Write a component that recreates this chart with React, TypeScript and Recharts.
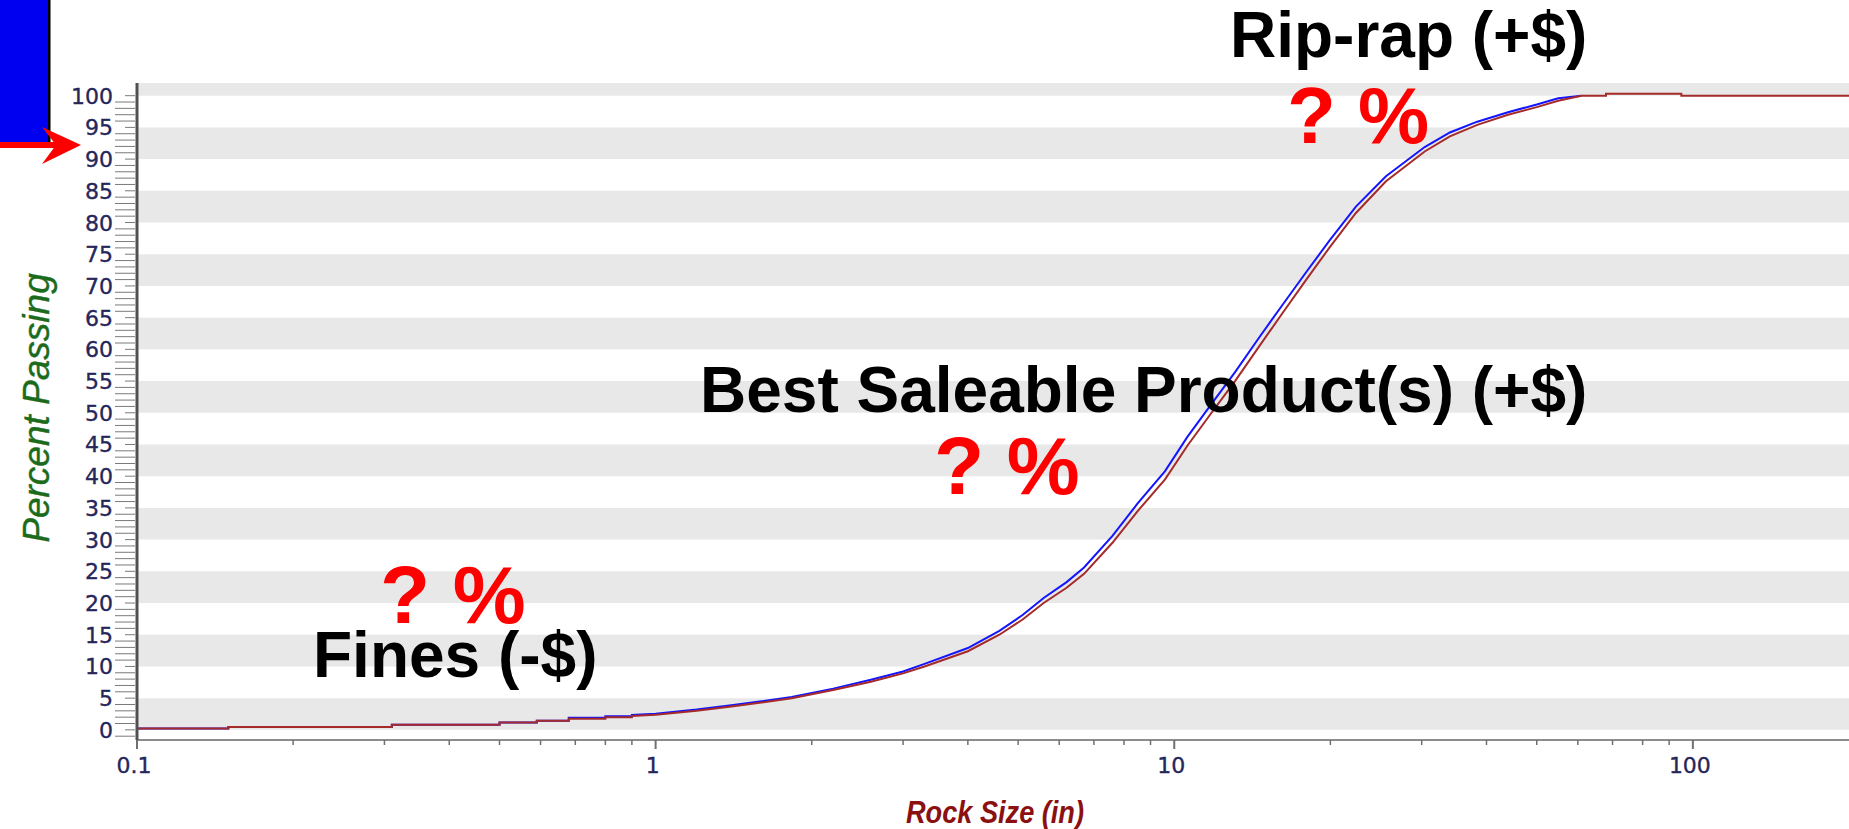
import React from 'react';
import { LineChart, Line, XAxis, YAxis, ReferenceArea } from 'recharts';

const W = 1849;
const H = 829;
const PLOT_LEFT = 137;
const PLOT_TOP = 83;
const PLOT_BOTTOM = 740;

const TICK_FONT = '"DejaVu Sans", Verdana, sans-serif';
const TICK_COLOR = '#26265a';
const RED = '#a52a2a';
const BLUE = '#1414ff';

// sieve curve (size in inches, percent passing)
const redSizes = [0.1, 0.15, 0.15, 0.31, 0.31, 0.5, 0.5, 0.59, 0.59, 0.68, 0.68, 0.8, 0.8, 0.9, 0.9, 1.0, 1.2, 1.4, 1.6, 1.83, 2.2, 2.6, 3.0, 3.3, 4.0, 4.6, 5.1, 5.6, 6.2, 6.7, 7.6, 8.5, 9.6, 10.6, 11.8, 13.1, 14.5, 16.1, 17.9, 19.9, 22.4, 25.6, 30.4, 34, 38.4, 44, 50, 55, 61, 68, 68, 95, 95, 200];
const redPassing = [0.2, 0.2, 0.45, 0.45, 0.8, 0.8, 1.15, 1.15, 1.45, 1.45, 1.75, 1.75, 2.0, 2.0, 2.2, 2.4, 3.0, 3.7, 4.3, 5.0, 6.3, 7.6, 8.9, 10, 12.4, 15, 17.4, 20, 22.4, 24.6, 29.5, 34.5, 39.5, 44.8, 50, 55, 60.2, 65.5, 70.8, 76, 81.5, 86.5, 91.2, 93.6, 95.4, 97, 98.2, 99.2, 100, 100, 100.3, 100.3, 100, 100];

const blueSizes = [0.1, 0.15, 0.15, 0.31, 0.31, 0.5, 0.5, 0.59, 0.59, 0.68, 0.68, 0.8, 0.8, 0.9, 0.9, 1.0, 1.2, 1.4, 1.6, 1.83, 2.2, 2.6, 3.0, 3.3, 4.0, 4.6, 5.1, 5.6, 6.2, 6.7, 7.6, 8.5, 9.6, 10.6, 11.8, 13.1, 14.5, 16.1, 17.9, 19.9, 22.4, 25.6, 30.4, 34, 38.4, 44, 50, 55, 61];
const bluePassing = [0.2, 0.2, 0.45, 0.45, 0.8, 0.8, 1.15, 1.15, 1.45, 1.45, 1.9, 1.9, 2.15, 2.15, 2.35, 2.55, 3.2, 3.9, 4.5, 5.2, 6.5, 7.9, 9.2, 10.4, 12.9, 15.6, 18.1, 20.8, 23.3, 25.6, 30.6, 35.7, 40.8, 46.2, 51.4, 56.4, 61.6, 66.8, 72, 77.1, 82.5, 87.3, 91.9, 94.2, 95.9, 97.4, 98.6, 99.6, 100];

const xTicks = [0.1, 0.2, 0.3, 0.4, 0.5, 0.6, 0.7, 0.8, 0.9, 1, 2, 3, 4, 5, 6, 7, 8, 9, 10, 20, 30, 40, 50, 60, 70, 80, 90, 100];
const xTickLabels = ['0.1', '1', '10', '100'];
const yTicks = Array.from({ length: 102 }, (_, i) => i - 1);
const bandStarts = [0, 10, 20, 30, 40, 50, 60, 70, 80, 90, 100];

const redData = redSizes.map((s, i) => ({ size: s, passing: redPassing[i] }));
const blueData = blueSizes.map((s, i) => ({ size: s, passing: bluePassing[i] }));

function XTick(props: any) {
  const { x, payload } = props;
  const label = xTickLabels.find((l) => Number(l) === payload.value);
  return (
    <g>
      <line x1={x} x2={x} y1={PLOT_BOTTOM} y2={PLOT_BOTTOM + (label ? 9 : 5)} stroke="#707070" strokeWidth={label ? 2 : 1.5} />
      {label && (
        <text x={x - 3} y={PLOT_BOTTOM + 33} textAnchor="middle" fontFamily={TICK_FONT} fontSize={22} fill={TICK_COLOR} stroke={TICK_COLOR} strokeWidth={0.35}>
          {label}
        </text>
      )}
    </g>
  );
}

function YTick(props: any) {
  const { y, payload } = props;
  const v = payload.value;
  const labelled = v >= 0 && v % 5 === 0;
  return (
    <g>
      <line x1={labelled ? 125 : 115} x2={PLOT_LEFT - 2} y1={y} y2={y} stroke="#7a7a7a" strokeWidth={1} />
      {labelled && (
        <text x={113} y={y + 8} textAnchor="end" fontFamily={TICK_FONT} fontSize={22} fill={TICK_COLOR} stroke={TICK_COLOR} strokeWidth={0.35}>
          {v}
        </text>
      )}
    </g>
  );
}

const annoFont = '"Liberation Sans", Arial, sans-serif';

function Overlay() {
  return (
    <svg width={W} height={H} style={{ position: 'absolute', left: 0, top: 0, pointerEvents: 'none' }}>
      <rect x={0} y={0} width={48} height={143} fill="#0000f0" />
      <rect x={48} y={0} width={2.5} height={143} fill="#000" />
      <rect x={0} y={142} width={58} height={6} fill="#ff0000" />
      <polygon points="42,127 81,145 42,164 56,145" fill="#ff0000" />

      <g fontFamily={annoFont} fontWeight="bold">
        <text x={1230} y={57} fontSize={64} fill="#000">Rip-rap (+$)</text>
        <text x={1287} y={143} fontSize={80} fill="#ff0000">? %</text>
        <text x={700} y={412} fontSize={64} fill="#000">Best Saleable Product(s) (+$)</text>
        <text x={934} y={494} fontSize={82} fill="#ff0000">? %</text>
        <text x={380} y={623} fontSize={82} fill="#ff0000">? %</text>
        <text x={313} y={677} fontSize={64} fill="#000">Fines (-$)</text>
      </g>
    </svg>
  );
}

export default function App() {
  return (
    <div style={{ position: 'absolute', left: 0, top: 0, width: W, height: H, background: '#fff' }}>
      <LineChart width={W} height={H} margin={{ top: PLOT_TOP, right: 0, bottom: 0, left: 0 }}>
        {bandStarts.map((b) => (
          <ReferenceArea key={b} y1={b} y2={b + 5} fill="#e8e8e8" fillOpacity={1} stroke="none" ifOverflow="hidden" />
        ))}
        <XAxis
          dataKey="size"
          type="number"
          scale="log"
          domain={[0.1, 200]}
          allowDataOverflow
          ticks={xTicks}
          interval={0}
          tick={<XTick />}
          tickLine={false}
          axisLine={{ stroke: '#8c8c8c', strokeWidth: 2 }}
          height={H - PLOT_BOTTOM}
          label={{
            value: 'Rock Size (in)',
            position: 'insideBottom',
            offset: 0,
            content: () => (
              <text x={995} y={823} textAnchor="middle" fontFamily={annoFont} fontSize={31} fontWeight="bold" fontStyle="italic" fill="#8b1010" textLength={178} lengthAdjust="spacingAndGlyphs">
                Rock Size (in)
              </text>
            ),
          }}
        />
        <YAxis
          type="number"
          domain={[-1.6, 102]}
          allowDataOverflow
          ticks={yTicks}
          interval={0}
          tick={<YTick />}
          tickLine={false}
          axisLine={{ stroke: '#505050', strokeWidth: 3 }}
          width={PLOT_LEFT}
          label={{
            value: 'Percent Passing',
            content: () => (
              <text x={36} y={408} dy={13} transform="rotate(-90 36 408)" textAnchor="middle" fontFamily={annoFont} fontSize={37} fontStyle="italic" fill="#1c6b1c" stroke="#1c6b1c" strokeWidth={0.4}>
                Percent Passing
              </text>
            ),
          }}
        />
        <Line data={blueData} dataKey="passing" type="linear" stroke={BLUE} strokeWidth={2} dot={false} isAnimationActive={false} />
        <Line data={redData} dataKey="passing" type="linear" stroke={RED} strokeWidth={2} dot={false} isAnimationActive={false} />
      </LineChart>
      <Overlay />
    </div>
  );
}
